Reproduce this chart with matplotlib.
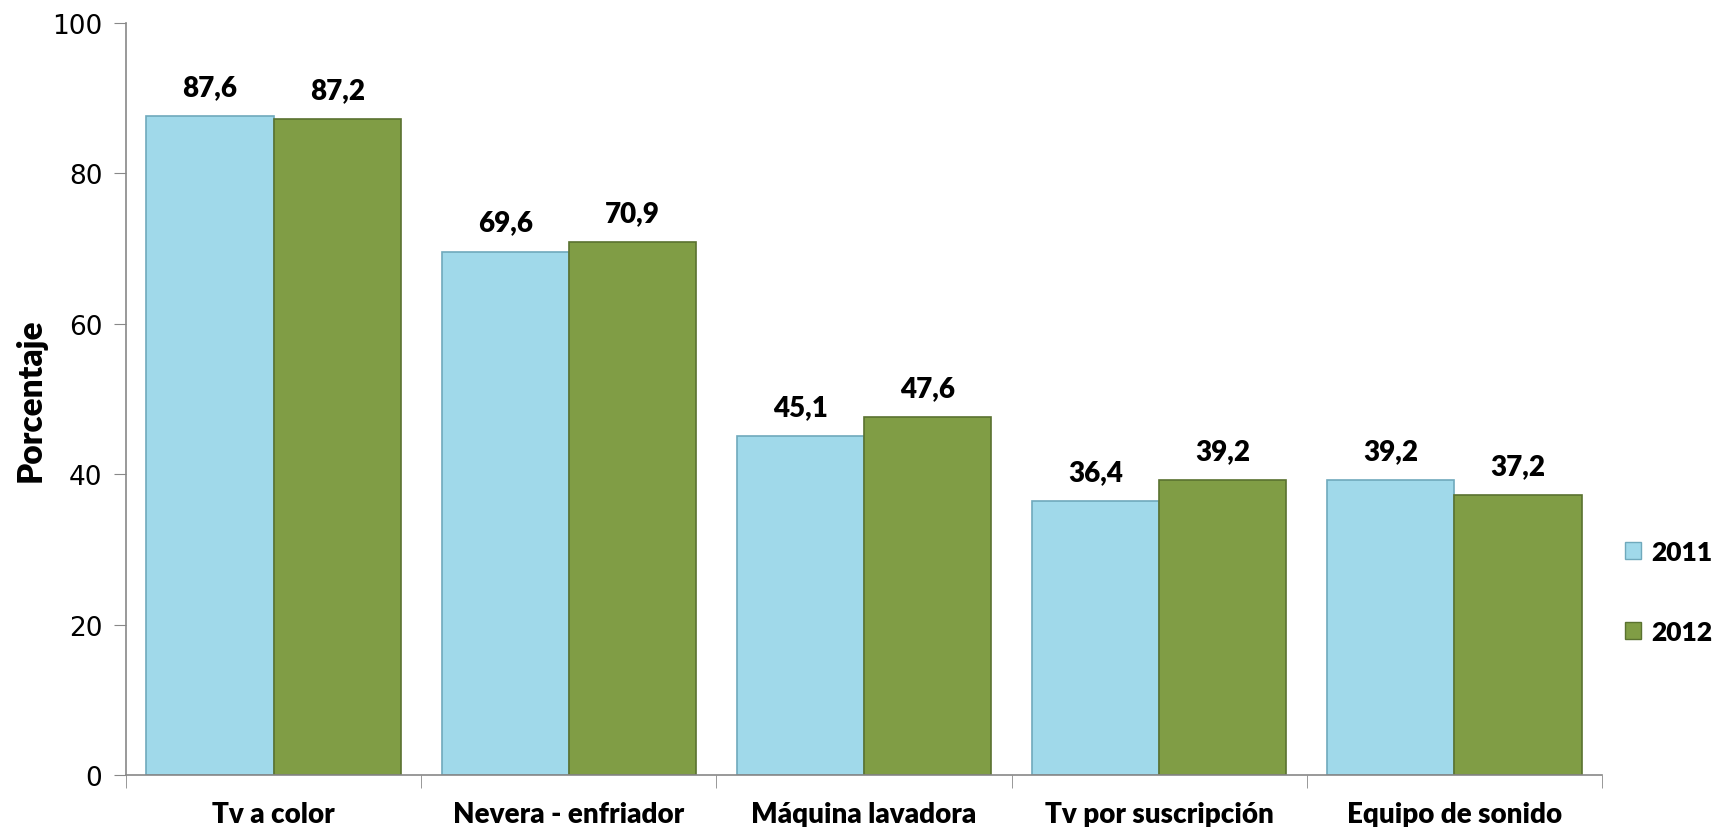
import matplotlib
matplotlib.use("Agg")
import matplotlib.pyplot as plt
import numpy as np
from matplotlib.patches import Patch

categories = ["Tv a color", "Nevera - enfriador", "Máquina lavadora", "Tv por suscripción", "Equipo de sonido"]
series_names = ["2011", "2012"]
values_2011 = [87.6, 69.6, 45.1, 36.4, 39.2]
values_2012 = [87.2, 70.9, 47.6, 39.2, 37.2]
labels_2011 = ["87,6", "69,6", "45,1", "36,4", "39,2"]
labels_2012 = ["87,2", "70,9", "47,6", "39,2", "37,2"]
yticks = [0, 20, 40, 60, 80, 100]

c2011 = "#A0D9EA"
c2012 = "#809D45"
e2011 = "#6FA9BC"
e2012 = "#5A7230"

FW = "heavy"

fig = plt.figure(figsize=(17.18, 8.28), dpi=100)
ax = fig.add_axes([0.0733, 0.0628, 0.8592, 0.9082])

x = np.arange(len(categories))
w = 0.431
b1 = ax.bar(x - w/2, values_2011, w, color=c2011, edgecolor=e2011, linewidth=1.2, label=series_names[0])
b2 = ax.bar(x + w/2, values_2012, w, color=c2012, edgecolor=e2012, linewidth=1.2, label=series_names[1])

for rect, lab in zip(b1, labels_2011):
    ax.annotate(lab, (rect.get_x() + rect.get_width()/2, rect.get_height()),
                xytext=(0, 21), textcoords="offset points", ha="center", va="center",
                fontsize=20, fontweight=FW, family="Lato")
for rect, lab in zip(b2, labels_2012):
    ax.annotate(lab, (rect.get_x() + rect.get_width()/2, rect.get_height()),
                xytext=(0, 21), textcoords="offset points", ha="center", va="center",
                fontsize=20, fontweight=FW, family="Lato")

ax.set_xlim(-0.5, len(categories) - 0.5)
ax.set_ylim(0, 100)
ax.set_yticks(yticks)
ax.set_yticklabels([str(t) for t in yticks], fontsize=19)
ax.tick_params(axis="y", length=9, color="#888888", pad=8)

ax.set_xticks(x)
ax.set_xticklabels(categories, fontsize=20, fontweight=FW, family="Lato")
ax.tick_params(axis="x", which="major", length=0, pad=19)
ax.set_xticks(np.arange(-0.5, len(categories)), minor=True)
ax.tick_params(axis="x", which="minor", length=9, color="#888888")

for s in ["top", "right"]:
    ax.spines[s].set_visible(False)
for s in ["left", "bottom"]:
    ax.spines[s].set_color("#888888")
    ax.spines[s].set_linewidth(1.2)

ax.set_ylabel("Porcentaje", fontsize=24, fontweight=FW, family="Lato", labelpad=4)

handles = [Patch(facecolor=c2011, edgecolor=e2011), Patch(facecolor=c2012, edgecolor=e2012)]
fig.legend(handles, series_names, loc="center left", bbox_to_anchor=(0.946, 0.284),
           frameon=False, prop={"family": "Lato", "weight": FW, "size": 19},
           handlelength=0.6, handleheight=0.6, handletextpad=0.4, labelspacing=2.1,
           borderpad=0, borderaxespad=0)

fig.savefig("out.png", dpi=100)
